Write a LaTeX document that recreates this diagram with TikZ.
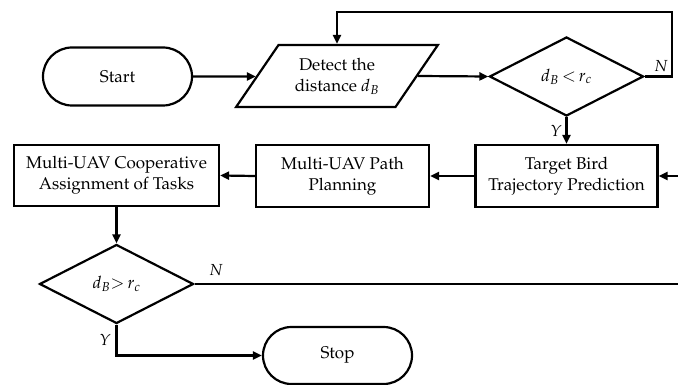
\documentclass[tikz,border=0pt]{standalone}
\usepackage[T1]{fontenc}
\usepackage{mathpazo}
\usetikzlibrary{shapes.geometric,shapes.misc,arrows.meta}
\begin{document}
\begin{tikzpicture}[x=1pt,y=-1pt,
  every node/.style={font=\fontsize{17}{21}\selectfont},
  ln/.style={line width=2.2pt},
  arr/.style={ln,-{Triangle[length=9pt,width=8pt]}},
  term/.style={draw,ln,rounded rectangle,minimum width=149pt,minimum height=58pt,inner sep=0pt},
  proc/.style={draw,ln,rectangle,minimum height=62pt,inner sep=0pt,align=center},
  dec/.style={draw,ln,diamond,inner sep=0pt,minimum width=154pt,minimum height=79pt,aspect=1.95,font=\fontsize{17}{20}\selectfont},
  io/.style={draw,ln,trapezium,trapezium left angle=50,trapezium right angle=130,trapezium stretches=true,minimum width=202pt,minimum height=62pt,inner sep=0pt,align=center},
  lbl/.style={font=\fontsize{16}{19}\selectfont\itshape,inner sep=0pt}]
\useasboundingbox (0,0) rectangle (678,385);
\node[term] (start) at (117.5,76.5) {Start};
\node[io] (detect) at (337,76) {Detect the\\distance $d_B$};
\node[dec] (d1) at (566.5,76.5) {$d_B\,{<}\,r_c$};
\node[proc,minimum width=182pt] (target) at (566.5,176) {Target Bird\\Trajectory Prediction};
\node[proc,minimum width=173pt] (path) at (342.5,176) {Multi-UAV Path\\Planning};
\node[proc,minimum width=205pt,minimum height=61pt] (coop) at (116.5,175.5) {Multi-UAV Cooperative\\Assignment of Tasks};
\node[dec] (d2) at (116.5,284) {$d_B{>}\,r_c$};
\node[term,minimum height=57pt] (stop) at (337.5,355.5) {Stop};
\coordinate (loopR) at (672,12);
\coordinate (inR) at (679,176);
\coordinate (outR) at (679,284);
\draw[arr] (start) -- (start -| detect.west);
\draw[arr] (detect.east) -- (d1.west);
\draw[arr] (d1.east) -| (loopR) -| (detect.north);
\draw[arr] (d1.south) -- (target.north);
\draw[arr] (inR) -- (target.east);
\draw[arr] (target.west) -- (path.east);
\draw[arr] (path.west) -- (coop.east);
\draw[arr] (coop.south) -- (d2.north);
\draw[ln] (d2.east) -- (outR);
\draw[arr] (d2.south) |- (stop.west);
\node[lbl] (n1) at (661,66) {N};
\node[lbl] (y1) at (556,131) {Y};
\node[lbl] (n2) at (216,270) {N};
\node[lbl] (y2) at (105,340) {Y};
\end{tikzpicture}
\end{document}
